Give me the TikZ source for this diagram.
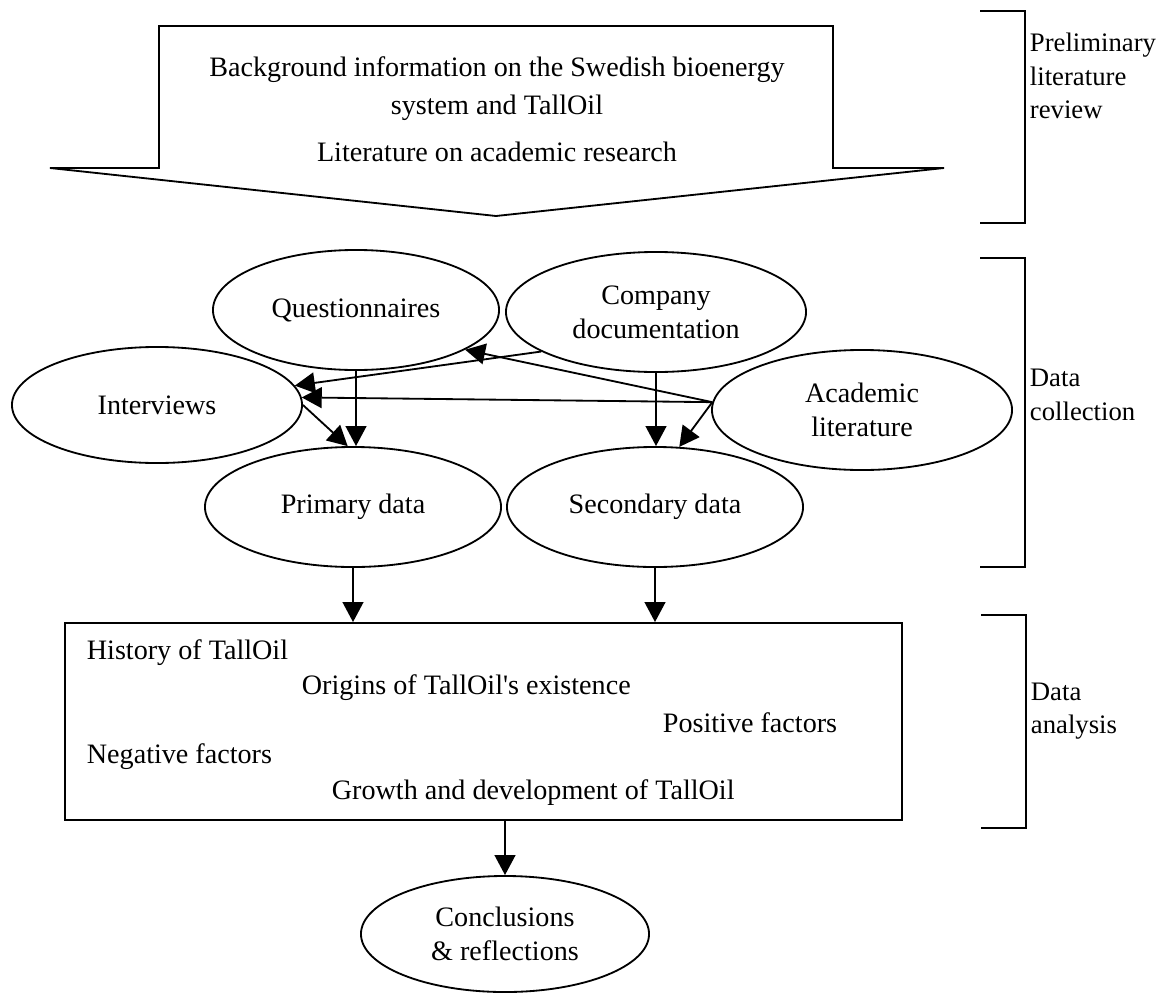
\documentclass[tikz,border=0pt]{standalone}
\usepackage{fontspec}
\setmainfont{Liberation Serif}
\usepackage{tikz}
\usetikzlibrary{arrows.meta,shapes.geometric}

\begin{document}
\begin{tikzpicture}[x=0.025cm,y=-0.025cm,line width=1.3pt,font=\fontsize{20}{24}\selectfont,>={Triangle[length=0.5cm,width=0.52cm]}]
	\tikzstyle{blob}=[ellipse,draw,inner sep=0pt,minimum width=7.4cm,minimum height=3cm,align=center]
	\tikzstyle{txt}=[inner sep=0pt,anchor=west]
	\tikzstyle{side}=[inner sep=0pt,anchor=west,align=left,font=\fontsize{19}{24}\selectfont]

	\useasboundingbox (0,0) rectangle (1161,992);

	% literature arrow
	\draw (159,26) -- (833,26) -- (833,168) -- (944,168) -- (496,216) -- (50,168) -- (159,168) -- cycle;
	\node[inner sep=0pt] (bg)   at (497,70)  {Background information on the Swedish bioenergy};
	\node[inner sep=0pt] (sys)  at (497,108) {system and TallOil};
	\node[inner sep=0pt] (lit)  at (497,152) {Literature on academic research};

	% data collection
	\node[blob,minimum width=7.15cm]              (quest) at (356,310) {Questionnaires};
	\node[blob,minimum width=7.5cm]               (comp)  at (656,312) {Company\\documentation};
	\node[blob,minimum width=7.25cm,minimum height=2.9cm] (intv) at (157,405) {Interviews};
	\node[blob,minimum width=7.5cm]               (acad)  at (862,410) {Academic\\literature};
	\node[blob]                                   (prim)  at (353,507) {Primary data};
	\node[blob]                                   (sec)   at (655,507) {Secondary data};

	% data analysis
	\node[draw,inner sep=0pt,minimum width=20.925cm,minimum height=4.925cm] (box) at (483.5,721.5) {};
	\node[txt] (hist) at (86,653)  {History of TallOil};
	\node[txt] (orig) at (301,688) {Origins of TallOil{\textquotesingle}s existence};
	\node[txt] (pos)  at (662,723) {Positive factors};
	\node[txt] (neg)  at (86,757)  {Negative factors};
	\node[txt] (grow) at (331,793) {Growth and development of TallOil};

	\node[blob,minimum width=7.2cm,minimum height=2.9cm] (concl) at (505,934) {Conclusions\\\& reflections};

	\path[->]
	(quest.south) edge (quest.south |- prim.north)
	(comp.south)  edge (comp.south |- sec.north)
	(intv.east)   edge (prim.95)
	(comp.199)    edge (intv.8)
	(acad.177)    edge (quest.340)
	              edge (intv.3)
	              edge (sec.68)
	(prim.south)  edge (prim.south |- box.north)
	(sec.south)   edge (sec.south |- box.north)
	(concl.north |- box.south) edge (concl.north);

	% brackets
	\draw[line width=1.7pt] (980,11) -- (1025,11) -- (1025,223) -- (980,223);
	\draw[line width=1.7pt] (980,258) -- (1025,258) -- (1025,567) -- (980,567);
	\draw[line width=1.7pt] (981,615) -- (1026,615) -- (1026,828) -- (981,828);
	\node[side] (prelim)   at (1029,76)  {Preliminary\\literature\\review};
	\node[side] (collect)  at (1029,395) {Data\\collection};
	\node[side] (analysis) at (1030,711) {Data\\analysis};
\end{tikzpicture}
\end{document}
